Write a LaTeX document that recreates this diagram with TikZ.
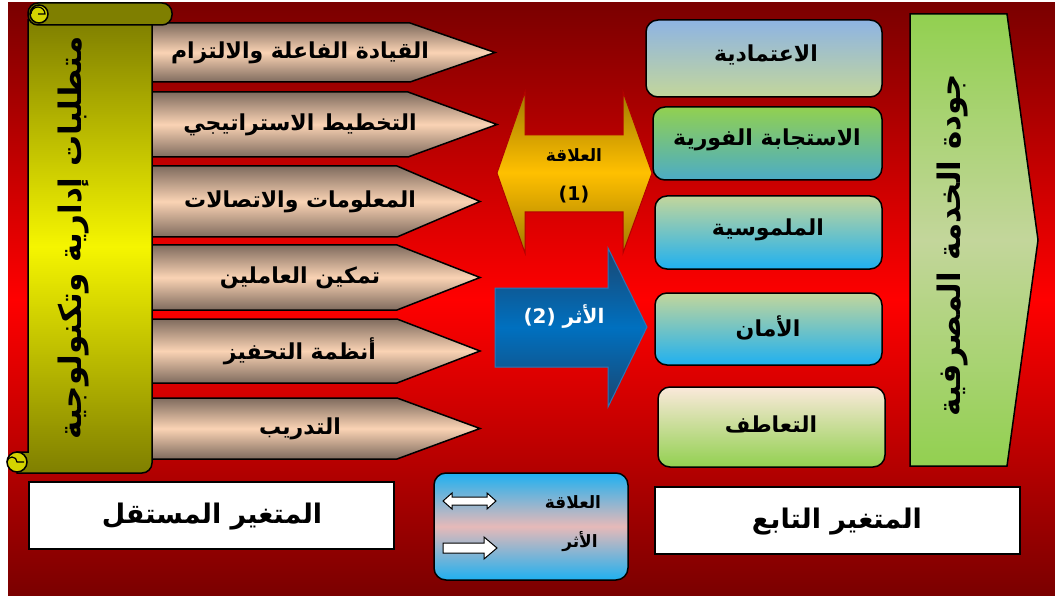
\documentclass[tikz,border=0pt]{standalone}
\usepackage{fontspec}
\newfontfamily\arabicfont[Script=Arabic]{DejaVu Sans}
\TeXXeTstate=1
\definecolor{bgdark}{HTML}{7A0000}
\definecolor{bgmid}{HTML}{FF0000}
\definecolor{olive}{HTML}{7F7F00}
\definecolor{scrollyel}{HTML}{F5F500}
\definecolor{curlyel}{HTML}{D4D400}
\definecolor{pbrown}{HTML}{7F6B5E}
\definecolor{peach}{HTML}{FAD3B4}
\definecolor{ydark}{HTML}{A07A00}
\definecolor{yorange}{HTML}{FFC000}
\definecolor{bdark}{HTML}{1A4670}
\definecolor{bmid}{HTML}{0070C0}
\definecolor{bline}{HTML}{2E75B6}
\definecolor{lblue}{HTML}{8EB4E3}
\definecolor{lgreen}{HTML}{C3D69B}
\definecolor{green}{HTML}{92D050}
\definecolor{teal}{HTML}{4BACC6}
\definecolor{sky}{HTML}{1FB0F0}
\definecolor{cream}{HTML}{FBE9DB}
\definecolor{pinkish}{HTML}{E6B9B8}
\tikzset{
  outl/.style={draw=black, line width=1.5pt},
  pent/.style={outl, top color=pbrown, bottom color=pbrown, middle color=peach},
  lbl/.style={font=\arabicfont\bfseries\fontsize{22}{26}\selectfont, text=black, inner sep=0pt},
  smlbl/.style={font=\arabicfont\bfseries\fontsize{17}{20}\selectfont, text=black, inner sep=0pt},
  biglbl/.style={font=\arabicfont\bfseries\fontsize{31}{36}\selectfont, text=black, inner sep=0pt},
  botlbl/.style={font=\arabicfont\bfseries\fontsize{27}{32}\selectfont, text=black, inner sep=0pt},
  rbox/.style={outl, rounded corners=12pt},
  wbox/.style={outl, fill=white},
  warrow/.style={draw=black, line width=1pt, fill=white},
}
\begin{document}
\begin{tikzpicture}[x=1pt,y=-1pt]
\useasboundingbox (0,0) rectangle (1055,596);
\fill[white] (0,0) rectangle (1055,596);
\shade[top color=bgdark, bottom color=bgdark, middle color=bgmid] (8,3) rectangle (1055,596);

% pentagons
\foreach \i/\t/\b/\s/\p/\txt in {
  1/23/82/410/495/{القيادة الفاعلة والالتزام},
  2/92/157/408/497/{التخطيط الاستراتيجي},
  3/166/237/397/480/{المعلومات والاتصالات},
  4/245/310/397/480/{تمكين العاملين},
  5/319/383/397/480/{أنظمة التحفيز},
  6/398/459/397/480/{التدريب}}{
  \shadedraw[pent] (145,\t) -- (\s,\t) -- (\p,{(\t+\b)/2}) -- (\s,\b) -- (145,\b) -- cycle;
  \node[lbl] (p\i) at (300,{(\t+\b)/2}) {\beginR\txt\endR};
}

% scroll
\shadedraw[outl, top color=olive, bottom color=olive, middle color=scrollyel]
  (28,20) -- (152,20) [rounded corners=10pt] -- (152,473) [sharp corners] -- (17,473) -- (17,452) -- (28,452) -- cycle;
\fill[curlyel, draw=black, line width=1.5pt] (17,462) circle (10);
\draw[black, line width=1.2pt] (24,462) -- (17,462) arc (180:0:-5) ;
\fill[olive, draw=black, line width=1.5pt, rounded corners=10pt] (28,3) rectangle (172,25);
\fill[curlyel, draw=black, line width=1.5pt] (39,14) circle (9);
\draw[black, line width=1.2pt] (31,14) arc (180:360:7) -- (38,14);
\node[biglbl, rotate=90] (scrolltxt) at (74,238) {\beginR متطلبات إدارية وتكنولوجية\endR};

% double arrow (relation)
\shadedraw[draw=red!70!black, line width=1pt, top color=ydark, bottom color=ydark, middle color=yorange]
  (497,173) -- (525,92) -- (525,135) -- (623,135) -- (623,92) -- (652,173) -- (623,253) -- (623,212) -- (525,212) -- (525,253) -- cycle;
\node[smlbl] (rel) at (574,155) {\beginR العلاقة\endR};
\node[smlbl, font=\arabicfont\bfseries\fontsize{19}{22}\selectfont] (rel1) at (574,195) {(1)};

% blue arrow (effect)
\shadedraw[draw=bline, line width=1pt, top color=bdark, bottom color=bdark, middle color=bmid]
  (495,288) -- (608,288) -- (608,248) -- (647,327) -- (608,407) -- (608,367) -- (495,367) -- cycle;
\node[smlbl, text=white, font=\arabicfont\bfseries\fontsize{20}{24}\selectfont] (eff) at (564,316) {(2) \beginR الأثر\endR};

% right boxes
\shadedraw[rbox, top color=lblue, bottom color=lgreen] (646,20) rectangle (882,97);
\node[lbl] (b1) at (766,55) {\beginR الاعتمادية\endR};
\shadedraw[rbox, top color=green, bottom color=teal] (653,107) rectangle (882,180);
\node[lbl] (b2) at (767,140) {\beginR الاستجابة الفورية\endR};
\shadedraw[rbox, top color=lgreen, bottom color=sky] (655,196) rectangle (882,269);
\node[lbl] (b3) at (768,230) {\beginR الملموسية\endR};
\shadedraw[rbox, top color=lgreen, bottom color=sky] (655,293) rectangle (882,365);
\node[lbl] (b4) at (768,328) {\beginR الأمان\endR};
\shadedraw[rbox, top color=cream, bottom color=green] (658,387) rectangle (885,467);
\node[lbl] (b5) at (771,424) {\beginR التعاطف\endR};

% big right arrow
\shadedraw[outl, top color=green, bottom color=green, middle color=lgreen]
  (910,14) -- (1007,14) -- (1038,240) -- (1007,466) -- (910,466) -- cycle;
\node[biglbl, rotate=90] (quality) at (952,245) {\beginR جودة الخدمة المصرفية\endR};

% bottom boxes
\draw[wbox] (29,482) rectangle (394,549);
\node[botlbl] (indep) at (212,517) {\beginR المتغير المستقل\endR};
\draw[wbox] (655,487) rectangle (1020,554);
\node[botlbl] (dep) at (837,522) {\beginR المتغير التابع\endR};

% legend
\shadedraw[rbox, top color=sky, bottom color=sky, middle color=pinkish] (434,473) rectangle (628,580);
\draw[warrow] (443,501) -- (452,493) -- (452,497) -- (487,497) -- (487,493) -- (496,501) -- (487,509) -- (487,505) -- (452,505) -- (452,509) -- cycle;
\draw[warrow] (443,543) -- (484,543) -- (484,537) -- (497,548) -- (484,559) -- (484,553) -- (443,553) -- cycle;
\node[smlbl] (lrel) at (573,502) {\beginR العلاقة\endR};
\node[smlbl] (leff) at (580,542) {\beginR الأثر\endR};
\end{tikzpicture}
\end{document}
